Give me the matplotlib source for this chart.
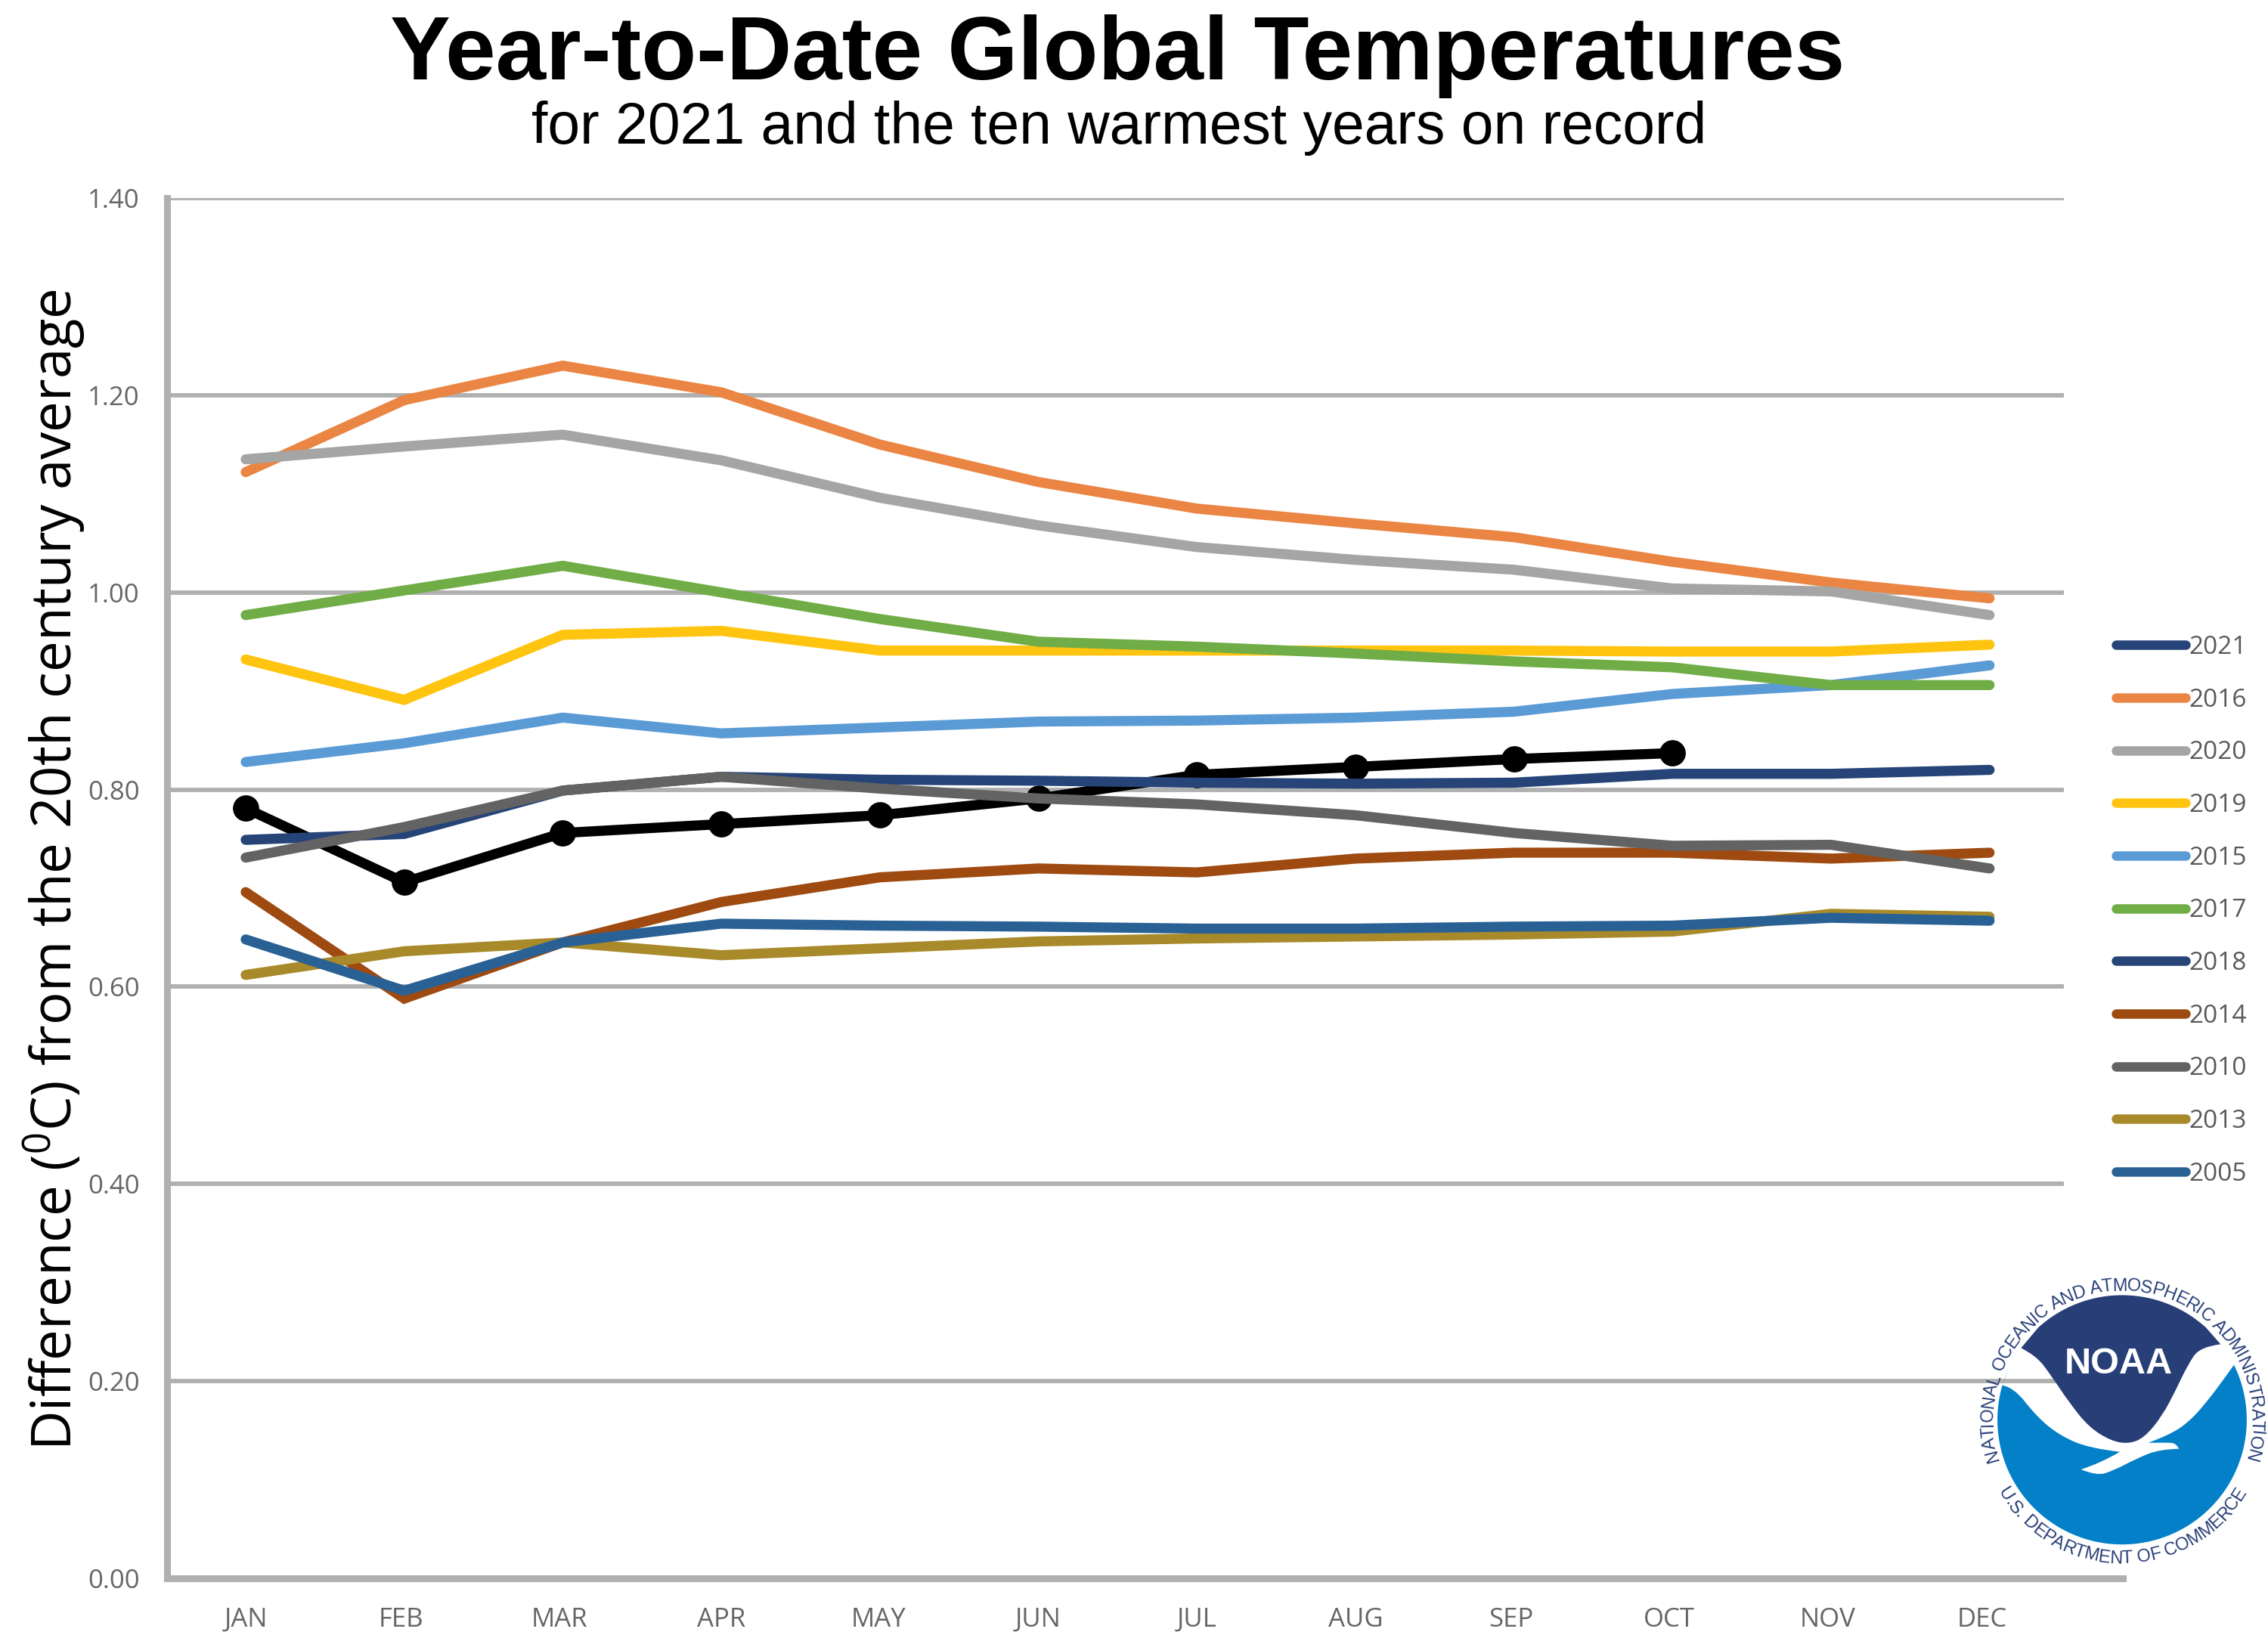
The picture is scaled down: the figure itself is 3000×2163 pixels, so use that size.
import numpy as np
import matplotlib
matplotlib.use('Agg')
import matplotlib.pyplot as plt
from matplotlib.lines import Line2D
from matplotlib.patches import PathPatch
from matplotlib.path import Path
from matplotlib.font_manager import FontProperties
from matplotlib.textpath import TextToPath

months = ['JAN', 'FEB', 'MAR', 'APR', 'MAY', 'JUN', 'JUL', 'AUG', 'SEP', 'OCT', 'NOV', 'DEC']

y2021 = [0.781, 0.706, 0.756, 0.765, 0.774, 0.791, 0.815, 0.823, 0.831, 0.837]
y2016 = [1.122, 1.195, 1.230, 1.203, 1.150, 1.112, 1.085, 1.070, 1.056, 1.031, 1.010, 0.994]
y2020 = [1.135, 1.148, 1.160, 1.134, 1.096, 1.068, 1.046, 1.033, 1.023, 1.004, 1.001, 0.977]
y2019 = [0.932, 0.891, 0.957, 0.961, 0.941, 0.941, 0.941, 0.941, 0.941, 0.940, 0.940, 0.947]
y2015 = [0.828, 0.847, 0.873, 0.857, 0.863, 0.869, 0.870, 0.873, 0.879, 0.897, 0.906, 0.926]
y2017 = [0.977, 1.002, 1.027, 1.000, 0.973, 0.950, 0.945, 0.938, 0.930, 0.924, 0.906, 0.906]
y2018 = [0.749, 0.755, 0.799, 0.813, 0.810, 0.809, 0.807, 0.806, 0.807, 0.816, 0.816, 0.820]
y2014 = [0.696, 0.588, 0.645, 0.686, 0.711, 0.720, 0.716, 0.730, 0.736, 0.736, 0.730, 0.736]
y2010 = [0.731, 0.762, 0.799, 0.813, 0.801, 0.791, 0.785, 0.774, 0.756, 0.743, 0.744, 0.720]
y2013 = [0.612, 0.636, 0.645, 0.632, 0.639, 0.646, 0.649, 0.651, 0.653, 0.656, 0.674, 0.671]
y2005 = [0.648, 0.596, 0.645, 0.664, 0.662, 0.661, 0.659, 0.659, 0.661, 0.662, 0.670, 0.667]

years = ['2021', '2016', '2020', '2019', '2015', '2017', '2018', '2014', '2010', '2013', '2005']
series = [y2021, y2016, y2020, y2019, y2015, y2017, y2018, y2014, y2010, y2013, y2005]
colors = ['#264478', '#ea8543', '#a5a5a5', '#ffc40f', '#5b9bd5', '#70ad47',
          '#264478', '#9e4a10', '#636363', '#a98a2a', '#2a6195']
yticks = [0.0, 0.2, 0.4, 0.6, 0.8, 1.0, 1.2, 1.4]

W, H = 3000, 2163
GREY = '#b0b0b0'

fig = plt.figure(figsize=(W / 100, H / 100), dpi=100)
ax = fig.add_axes([221 / W, 1 - 2088 / H, (2808 - 221) / W, (2088 - 262) / H])
month_px = 209.7
ax.set_xlim(-(325 - 221) / month_px, (2808 - 325) / month_px)
ax.set_ylim(0, 1.4)

for s in ('top', 'right'):
    ax.spines[s].set_visible(False)
for s in ('left', 'bottom'):
    ax.spines[s].set_color(GREY)
    ax.spines[s].set_linewidth(6.5)

# gridlines stop short of the bottom axis
grid_end = (2730 - 325) / month_px
for v in yticks[1:]:
    ax.plot([ax.get_xlim()[0], grid_end], [v, v], color=GREY, lw=4.2, zorder=1, solid_capstyle='butt')

x = np.arange(12)
for yr, vals, c in zip(years, series, colors):
    if yr == '2021':
        ax.plot(x[:len(vals)], vals, color='black', lw=9.6, marker='o', ms=24, zorder=2,
                solid_capstyle='round', solid_joinstyle='miter')
    else:
        ax.plot(x, vals, color=c, lw=9.6, zorder=3, solid_capstyle='round', solid_joinstyle='miter')

# month labels do not sit exactly under their points
label_shift = np.array([0, -4, -4, 0, -2, 0, 0, 0, -4, -4, -4, -10]) / month_px
ax.set_xticks(x + label_shift)
ax.set_xticklabels(months, family='Open Sans', fontsize=25, color='#666666')
ax.set_yticks(yticks)
ax.set_yticklabels([f'{v:.2f}' for v in yticks], family='Open Sans', fontsize=25, color='#666666')
ax.tick_params(axis='both', length=0)
ax.tick_params(axis='x', pad=27)
ax.tick_params(axis='y', pad=26)

plt.rcParams['mathtext.default'] = 'regular'
fig.text(72 / W, 1 - 1151 / H, r'Difference ($^{0}$C) from the 20th century average', rotation=90,
         family='Open Sans', fontsize=52.3, color='black', ha='center', va='center')
fig.text(1478 / W, 1 - 105 / H, 'Year-to-Date Global Temperatures', family='Liberation Sans', weight='bold',
         fontsize=86, color='black', ha='center', va='baseline')
fig.text(1480 / W, 1 - 190 / H, 'for 2021 and the ten warmest years on record', family='Liberation Sans',
         fontsize=55.3, color='black', ha='center', va='baseline')

handles = [Line2D([], [], color=c, lw=9, solid_capstyle='round') for c in colors]
fig.legend(handles, years, loc='upper left', bbox_to_anchor=(2799 / W, 1 - 840 / H), frameon=False,
           prop={'family': 'Open Sans', 'size': 24}, labelcolor='#595959', handlelength=2.75,
           handletextpad=0.15, labelspacing=1.10, borderpad=0, borderaxespad=0)

# logo layer, laid out in pixels of the figure
lg = fig.add_axes([0, 0, 1, 1], facecolor='none')
lg.set_xlim(0, W)
lg.set_ylim(H, 0)
lg.axis('off')


def logo_patch(sections, color):
    # each section is a smooth curve between two sharp ends
    verts, codes = [], []
    for sec in sections:
        pts = [(2550 + a / 3, 1650 + b / 3) for a, b in sec]
        verts.append(pts[0])
        codes.append(Path.LINETO if verts[:-1] else Path.MOVETO)
        for i in range(1, len(pts) - 1):
            end = pts[i + 1] if i == len(pts) - 2 else ((pts[i][0] + pts[i + 1][0]) / 2, (pts[i][1] + pts[i + 1][1]) / 2)
            verts += [pts[i], end]
            codes += [Path.CURVE3, Path.CURVE3]
    verts.append(verts[0])
    codes.append(Path.CLOSEPOLY)
    lg.add_patch(PathPatch(Path(verts, codes), facecolor=color, edgecolor='none'))


cx, cy, r = 771, 685, 495


def rim(a0, a1, n):
    return [(cx + r * np.cos(t), cy + r * np.sin(t)) for t in np.radians(np.linspace(a0, a1, n))]


logo_patch([rim(-28, 204, 60),
            [(295, 548), (340, 555), (430, 670), (520, 745), (640, 798), (762, 812)],
            [(762, 812), (690, 855), (608, 882)],
            [(608, 882), (670, 908), (740, 885), (830, 838), (920, 802), (997, 800)],
            [(997, 800), (985, 778), (950, 775), (875, 776)],
            [(875, 776), (960, 745), (1040, 690), (1110, 610), (1170, 530), (1215, 467)]], '#0380c8')
logo_patch([rim(-132, -48, 24),
            [(1162, 385), (1080, 395), (1030, 470), (985, 565), (930, 670), (860, 755), (800, 780),
             (730, 770), (640, 715), (560, 615), (490, 510), (430, 430), (370, 400)]], '#283e77')

lg.text(2550 + 757 / 3, 1650 + 500 / 3, 'NOAA', family='Liberation Sans', weight='bold', fontsize=35,
        color='white', ha='center', va='baseline')


def arc_text(txt, start, stop, radius, top):
    prop = FontProperties(family='Liberation Sans', size=17)
    widths = [TextToPath().get_text_width_height_descent(c, prop, False)[0] for c in txt]
    edges = np.concatenate([[0], np.cumsum(widths)])
    mids = (edges[:-1] + edges[1:]) / 2 / edges[-1]
    px, py = 2550 + cx / 3, 1650 + cy / 3
    for c, m in zip(txt, mids):
        t = np.radians(start + (stop - start) * m)
        if top:
            lx, ly, rot = px + radius * np.sin(t), py - radius * np.cos(t), -np.degrees(t)
        else:
            lx, ly, rot = px + radius * np.sin(t), py + radius * np.cos(t), np.degrees(t)
        lg.text(lx, ly, c, fontproperties=prop, color='#283e77', rotation=rot, rotation_mode='anchor',
                ha='center', va='baseline')


arc_text('NATIONAL OCEANIC AND ATMOSPHERIC ADMINISTRATION', -108, 108, 171, True)
arc_text('U.S. DEPARTMENT OF COMMERCE', -60, 60, 190, False)

fig.savefig('out.png', dpi=100)
